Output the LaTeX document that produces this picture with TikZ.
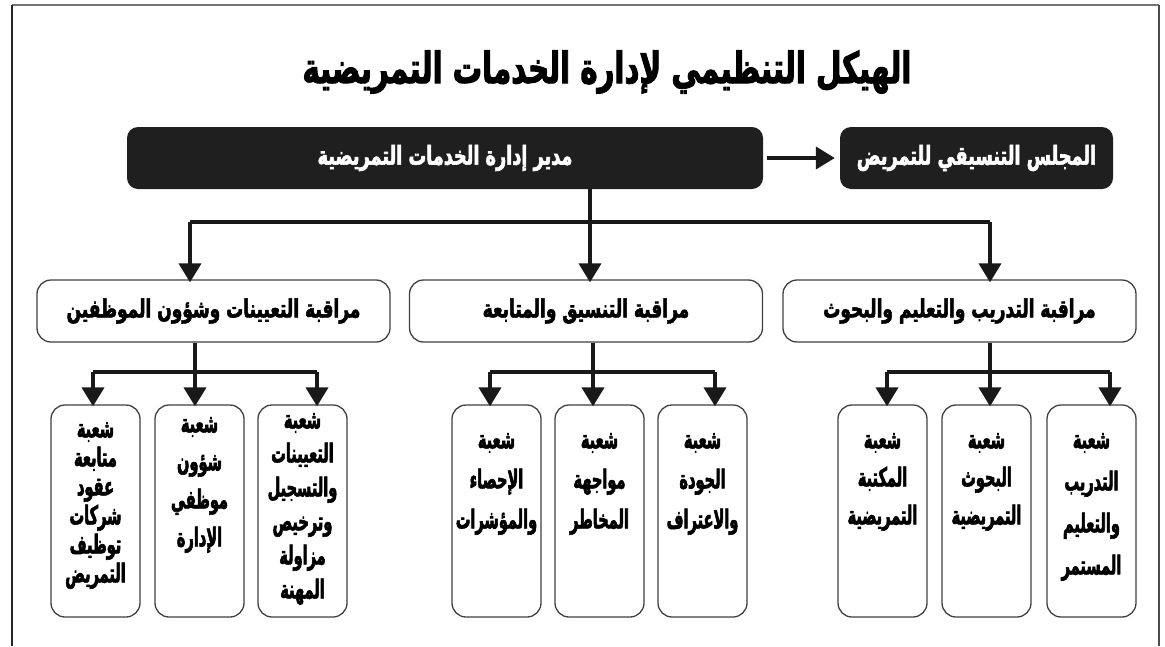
\documentclass[tikz,border=0pt]{standalone}
\usepackage{fontspec}
\usetikzlibrary{arrows.meta}
\TeXXeTstate=1
\newfontfamily\arabicfont[Script=Arabic, FakeStretch=0.68, BoldFeatures={FakeBold=2.2}]{DejaVu Sans}
\newfontfamily\arabicsub[Script=Arabic, FakeStretch=0.56, BoldFeatures={FakeBold=2.2}]{DejaVu Sans}
\newcommand{\ar}[1]{\beginR #1\endR}
\begin{document}
\begin{tikzpicture}[x=1pt,y=-1pt,
  conn/.style={line width=4pt, draw=black!90},
  arr/.style={conn, -{Triangle[width=22pt,length=19pt]}},
  darkbox/.style={fill=black!88, rounded corners=11pt, text=white, inner sep=0pt,
    font=\arabicfont\bfseries\fontsize{26}{30}\selectfont},
  midbox/.style={draw=black!75, line width=1.3pt, fill=white, rounded corners=14pt,
    minimum width=353pt, minimum height=62pt, inner sep=0pt,
    font=\arabicfont\bfseries\fontsize{25}{29}\selectfont},
  subbox/.style={draw=black!75, line width=1.3pt, fill=white, rounded corners=14pt,
    minimum width=89pt, minimum height=212pt, inner sep=0pt},
  subtext/.style={anchor=north, align=center, inner sep=0pt,
    font=\arabicsub\bfseries\fontsize{26}{#1}\selectfont},
]
\useasboundingbox (0,0) rectangle (1165,646);
% frame
\draw[black!55, line width=2pt] (12,5) -- (1159,5);
\draw[black!85, line width=1.5pt] (12,5) -- (12,646);
\draw[black!70, line width=1.8pt] (1159,5) -- (1159,646);

% title
\node[font=\arabicfont\bfseries\fontsize{43}{48}\selectfont, inner sep=0pt] (title) at (607,72) {\ar{الهيكل التنظيمي لإدارة الخدمات التمريضية}};

% top level
\node[darkbox, minimum width=636pt, minimum height=62pt] (main) at (445,158) {\ar{مدير إدارة الخدمات التمريضية}};
\node[darkbox, minimum width=273pt, minimum height=62pt] (council) at (976.5,158) {\ar{المجلس التنسيقي للتمريض}};
\draw[arr, shorten <=4pt, shorten >=5pt] (main.east) -- (council.west);

% middle level
\node[midbox] (m1) at (213.5,311) {\ar{مراقبة التعيينات وشؤون الموظفين}};
\node[midbox] (m2) at (586,311) {\ar{مراقبة التنسيق والمتابعة}};
\node[midbox] (m3) at (959.5,311) {\ar{مراقبة التدريب والتعليم والبحوث}};

\coordinate (j0) at (590,222);
\coordinate (j1) at (190,222);
\coordinate (j3) at (990,222);
\draw[conn] (main.south -| j0) -- (j0);
\draw[conn] (j1) -- (j3);
\draw[arr] (j1) -- ([yshift=-3pt]j1 |- m1.north);
\draw[arr] (j0) -- ([yshift=-3pt]j0 |- m2.north);
\draw[arr] (j3) -- ([yshift=-3pt]j3 |- m3.north);

% bottom level boxes
\node[subbox] (b1) at (95.5,511) {};
\node[subbox] (b2) at (199.5,511) {};
\node[subbox] (b3) at (302.5,511) {};
\node[subbox] (b4) at (496.5,511) {};
\node[subbox] (b5) at (599.5,511) {};
\node[subbox] (b6) at (702.5,511) {};
\node[subbox] (b7) at (882.5,511) {};
\node[subbox] (b8) at (986.5,511) {};
\node[subbox] (b9) at (1091.5,511) {};

\node[subtext=29] (t1) at (95.5,422) {\ar{شعبة}\\\ar{متابعة}\\\ar{عقود}\\\ar{شركات}\\\ar{توظيف}\\\ar{التمريض}};
\node[subtext=38] (t2) at (199.5,417) {\ar{شعبة}\\\ar{شؤون}\\\ar{موظفي}\\\ar{الإدارة}};
\node[subtext=34] (t3) at (302.5,413) {\ar{شعبة}\\\ar{التعيينات}\\\ar{والتسجيل}\\\ar{وترخيص}\\\ar{مزاولة}\\\ar{المهنة}};
\node[subtext=40] (t4) at (496.5,433) {\ar{شعبة}\\\ar{الإحصاء}\\\ar{والمؤشرات}};
\node[subtext=40] (t5) at (599.5,433) {\ar{شعبة}\\\ar{مواجهة}\\\ar{المخاطر}};
\node[subtext=40] (t6) at (702.5,433) {\ar{شعبة}\\\ar{الجودة}\\\ar{والاعتراف}};
\node[subtext=38] (t7) at (882.5,433) {\ar{شعبة}\\\ar{المكتبة}\\\ar{التمريضية}};
\node[subtext=38] (t8) at (986.5,433) {\ar{شعبة}\\\ar{البحوث}\\\ar{التمريضية}};
\node[subtext=42] (t9) at (1091.5,433) {\ar{شعبة}\\\ar{التدريب}\\\ar{والتعليم}\\\ar{المستمر}};

% bottom connectors
\coordinate (k1) at (195,372);
\coordinate (a1) at (93,372);
\coordinate (c1) at (317,372);
\draw[conn] (m1.south -| k1) -- (k1);
\draw[conn] (a1) -- (c1);
\draw[arr] (a1) -- ([yshift=-2pt]a1 |- b1.north);
\draw[arr] (k1) -- ([yshift=-2pt]k1 |- b2.north);
\draw[arr] (c1) -- ([yshift=-2pt]c1 |- b3.north);

\coordinate (k2) at (593,372);
\coordinate (a2) at (490,372);
\coordinate (c2) at (715,372);
\draw[conn] (m2.south -| k2) -- (k2);
\draw[conn] (a2) -- (c2);
\draw[arr] (a2) -- ([yshift=-2pt]a2 |- b4.north);
\draw[arr] (k2) -- ([yshift=-2pt]k2 |- b5.north);
\draw[arr] (c2) -- ([yshift=-2pt]c2 |- b6.north);

\coordinate (k3) at (990,372);
\coordinate (a3) at (887,372);
\coordinate (c3) at (1110,372);
\draw[conn] (m3.south -| k3) -- (k3);
\draw[conn] (a3) -- (c3);
\draw[arr] (a3) -- ([yshift=-2pt]a3 |- b7.north);
\draw[arr] (k3) -- ([yshift=-2pt]k3 |- b8.north);
\draw[arr] (c3) -- ([yshift=-2pt]c3 |- b9.north);
\end{tikzpicture}
\end{document}
